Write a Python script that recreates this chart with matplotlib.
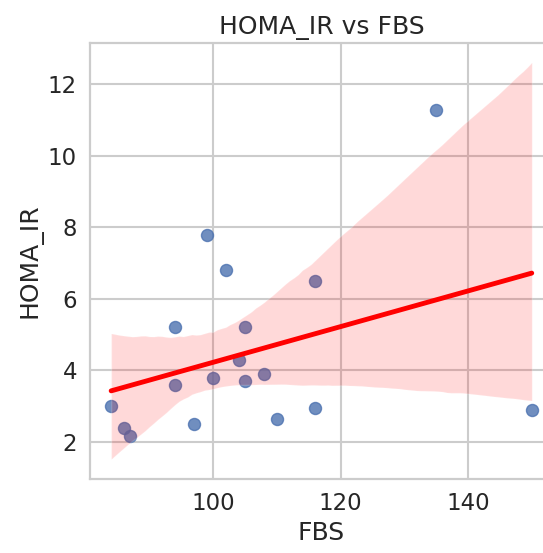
import numpy as np
import pandas as pd
import matplotlib
matplotlib.use("Agg")
import matplotlib.pyplot as plt
import seaborn as sns

# values
fbs = [84, 86, 87, 94, 94, 97, 99, 100, 102, 105, 104, 105, 108, 110, 116, 116, 135, 150]
homa_ir = [3.0, 2.4, 2.15, 5.2, 3.6, 2.5, 7.8, 3.8, 6.8, 5.2, 4.3, 3.7, 3.9, 2.65, 2.95, 6.5, 11.3, 2.9]

df = pd.DataFrame({"FBS": fbs, "HOMA_IR": homa_ir})

sns.set_theme(style="whitegrid", font_scale=1.5,
              rc={"grid.linewidth": 1.5, "axes.linewidth": 1.6})
fig, ax = plt.subplots(figsize=(5.43, 5.53), dpi=100)
# the reference is cropped on the right, so the axes runs past the edge
fig.subplots_adjust(left=0.166, right=1.018, top=0.923, bottom=0.134)
sns.regplot(data=df, x="FBS", y="HOMA_IR", ax=ax, seed=0,
            scatter_kws={"s": 75}, line_kws={"color": "red", "linewidth": 3.5})
ax.set_title("HOMA_IR vs FBS")
for s in ax.spines.values():
    s.set_visible(True)
    s.set_color("#cccccc")
fig.savefig("out.png")
plt.close(fig)
